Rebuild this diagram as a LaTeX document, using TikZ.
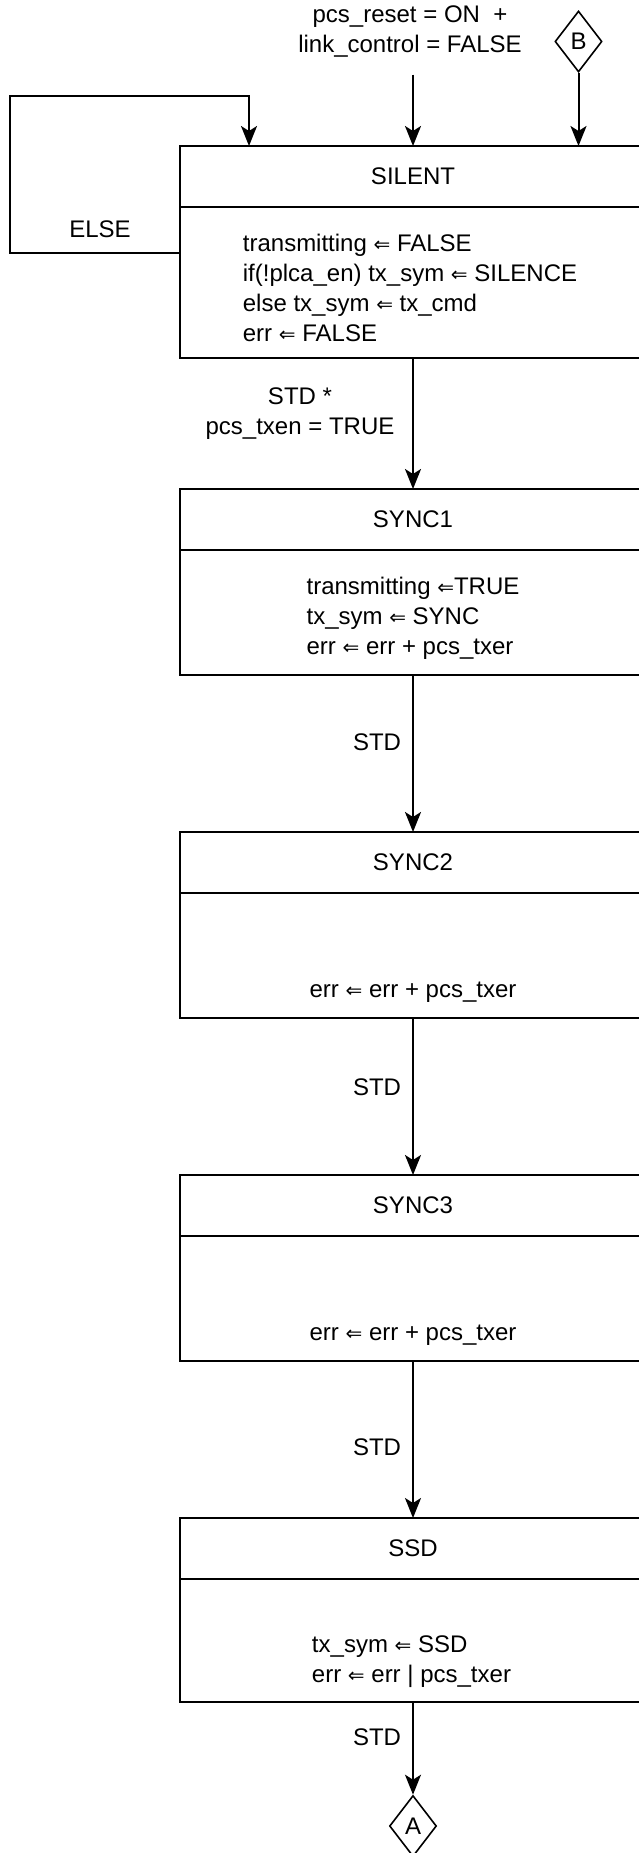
\documentclass[tikz,border=0pt]{standalone}
\usepackage{fontspec}
\setmainfont{Liberation Sans}
\newfontfamily\arrowfont{DejaVu Sans}
\newcommand{\getsto}{{\arrowfont\fontsize{10}{15}\selectfont ⇐}}
\usepackage{tikz}
\usetikzlibrary{arrows.meta, positioning, shapes.geometric}

\begin{document}
\begin{tikzpicture}[x=0.5pt, y=-0.5pt,
  head/.style={draw, line width=1pt, outer sep=0pt, minimum width=233pt,
               minimum height=30.5pt, font=\fontsize{12}{15}\selectfont},
  body/.style={draw, line width=1pt, outer sep=0pt, minimum width=233pt},
  action/.style={align=left, inner sep=0pt, font=\fontsize{12}{15}\selectfont},
  cond/.style={align=center, inner sep=0pt, font=\fontsize{12}{15}\selectfont},
  conn/.style={diamond, draw, line width=0.8pt, inner sep=0pt, minimum width=23.5pt,
               minimum height=30.5pt, font=\fontsize{12}{15}\selectfont},
  flow/.style={-{Stealth[length=10pt, width=8pt, inset=2.5pt]}, line width=1pt},
]
  \useasboundingbox (0,0) rectangle (638,1853);

  \node[cond] (reset) at (410,31.5) {pcs\_reset = ON\ \ +\\link\_control = FALSE};
  \node[conn] (b) at (578.5,41.5) {B};

  \node[head] (silent) at (413,176.5) {SILENT};
  \node[body, minimum height=75.5pt, below=0pt of silent] (silentb) {};
  \node[action] (silentt) at (410,287.5) {transmitting \getsto{} FALSE\\
    if(!plca\_en) tx\_sym \getsto{} SILENCE\\
    else tx\_sym \getsto{} tx\_cmd\\
    err \getsto{} FALSE};

  \node[head] (sync1) at (413,519.5) {SYNC1};
  \node[body, minimum height=62.5pt, below=0pt of sync1] (sync1b) {};
  \node[action] (sync1t) at (413,618) {transmitting \getsto{}TRUE\\
    tx\_sym \getsto{} SYNC\\
    err \getsto{} err + pcs\_txer};

  \node[head] (sync2) at (413,862.5) {SYNC2};
  \node[body, minimum height=62.5pt, below=0pt of sync2] (sync2b) {};
  \node[action] (sync2t) at (413,992) {err \getsto{} err + pcs\_txer};

  \node[head] (sync3) at (413,1205.5) {SYNC3};
  \node[body, minimum height=62.5pt, below=0pt of sync3] (sync3b) {};
  \node[action] (sync3t) at (413,1335) {err \getsto{} err + pcs\_txer};

  \node[head] (ssd) at (413,1548.5) {SSD};
  \node[body, minimum height=61.5pt, below=0pt of ssd] (ssdb) {};
  \node[action] (ssdt) at (411.5,1661.5) {tx\_sym \getsto{} SSD\\
    err \getsto{} err | pcs\_txer};

  \node[conn] (a) at (413,1826) {A};

  % transition labels
  \node[cond] (elsel) at (100,229) {ELSE};
  \node[cond] (std0) at (300,414) {STD *\\pcs\_txen = TRUE};
  \node[cond] (std1) at (377,742) {STD};
  \node[cond] (std2) at (377,1087) {STD};
  \node[cond] (std3) at (377,1447) {STD};
  \node[cond] (std4) at (377,1737) {STD};

  \coordinate (elseout) at ([yshift=15pt]silentb.west);
  \coordinate (elsein) at ([xshift=-82pt]silent.north);

  \draw[flow, shorten <=8.5pt] (silent.north |- reset.south) -- (silent.north);
  \draw[flow] (b) -- (b |- silent.north);
  \draw[flow] (elseout) -- ++(-170,0) |- ([yshift=25pt]elsein) -- (elsein);
  \draw[flow] (silentb) -- (sync1);
  \draw[flow] (sync1b) -- (sync2);
  \draw[flow] (sync2b) -- (sync3);
  \draw[flow] (sync3b) -- (ssd);
  \draw[flow] (ssdb) -- (a);
\end{tikzpicture}
\end{document}
